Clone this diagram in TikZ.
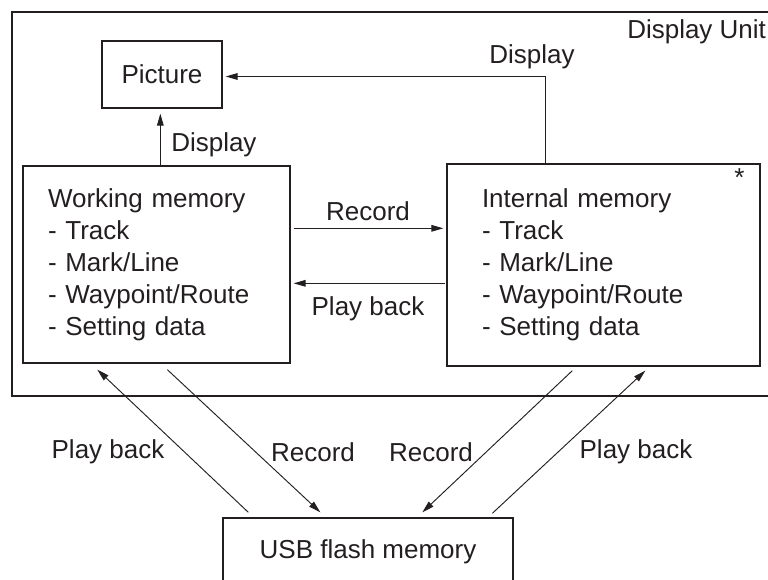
\documentclass[tikz,border=0pt]{standalone}
\usepackage{fontspec}
\setmainfont{Liberation Sans}
\usetikzlibrary{arrows.meta,positioning,calc}
\definecolor{ink}{HTML}{231F20}
\tikzset{
  box/.style={draw=ink,line width=1pt,inner sep=0pt,align=center,text=ink},
  membox/.style={box,align=left,inner ysep=0pt},
  lbl/.style={inner sep=0pt,text=ink},
  ar/.style={-{Triangle[length=9pt,width=5pt]},draw=ink,line width=0.7pt},
}

\begin{document}
\begin{tikzpicture}[x=0.75pt,y=-0.75pt,font=\fontsize{19.5}{24}\selectfont]
  \useasboundingbox (0,0) rectangle (768,580);
  \draw[ink,line width=1.6pt] (12,12) rectangle (790,396);
  \node[lbl,anchor=west] (unit) at (627,32) {Display Unit};

  \node[box,minimum width=90pt,minimum height=50.25pt] (pic) at (162,74.5) {Picture};
  \node[membox,inner xsep=18.75pt,text width=162.75pt,minimum height=147.75pt] (wm) at (156.5,264.5)
    {Working memory\\- Track\\- Mark/Line\\- Waypoint/Route\\- Setting data};
  \node[membox,inner xsep=26.25pt,text width=182.25pt,minimum height=151.5pt] (im) at (603.5,265)
    {Internal memory\\- Track\\- Mark/Line\\- Waypoint/Route\\- Setting data};
  \node[lbl,below left=4pt and 12pt of im.north east] (star) {*};
  \node[box,minimum width=217.5pt,minimum height=51pt] (usb) at (368,552) {USB flash memory};

  % display paths
  \draw[ar] ($(wm.north west)+(138,0)$) -- ($(pic.south west)+(59,5)$);
  \node[lbl,anchor=west] (dsp1) at (171,145) {Display};
  \draw[ar] ($(im.north west)+(99,0)$) |- ($(pic.east)+(3,2)$);
  \node[lbl] (dsp2) at (532,57) {Display};

  % working <-> internal
  \draw[ar] ($(wm.north east)+(3,63)$) -- ($(im.north west)+(-3,65)$);
  \node[lbl] (rec0) at (368,211) {Record};
  \draw[ar] ($(im.north west)+(-1,120)$) -- ($(wm.north east)+(3,118)$);
  \node[lbl] (pb0) at (368,309) {Play back};

  % usb links
  \draw[ar] ($(usb.north west)+(26,-5)$) -- ($(wm.south west)+(75,6)$);
  \draw[ar] ($(wm.south west)+(145,6)$) -- ($(usb.north west)+(98,-5)$);
  \draw[ar] ($(im.south west)+(126,4)$) -- ($(usb.north west)+(200,-5)$);
  \draw[ar] ($(usb.north west)+(270,-4)$) -- ($(im.south west)+(199,4)$);
  \node[lbl] (pb1) at (108,452) {Play back};
  \node[lbl] (rec1) at (313,452) {Record};
  \node[lbl] (rec2) at (431,452) {Record};
  \node[lbl] (pb2) at (636,452) {Play back};
\end{tikzpicture}
\end{document}
